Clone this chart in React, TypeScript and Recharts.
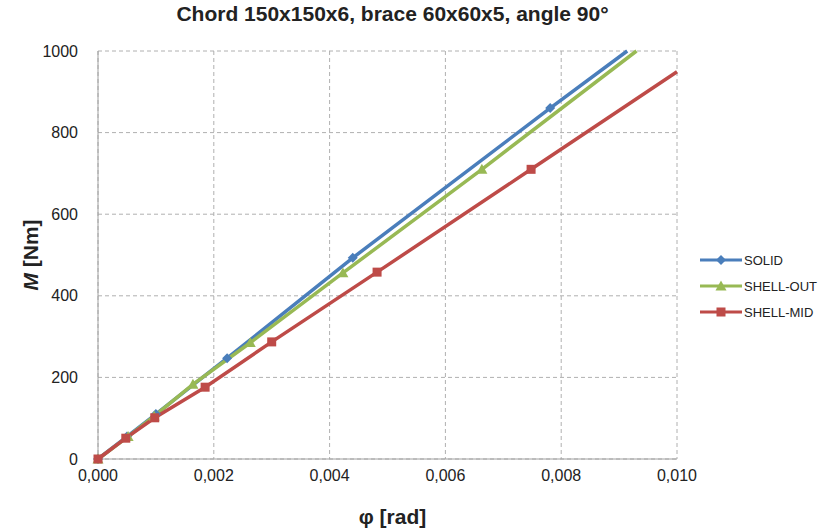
import React from 'react';
import { LineChart, Line, XAxis, YAxis, CartesianGrid } from 'recharts';

const phiSolid = [0, 0.0005, 0.001, 0.00223, 0.0044, 0.00781, 0.00914];
const mSolid = [0, 55, 110, 247, 493, 860, 1000];

const phiShellOut = [0, 0.00052, 0.00097, 0.00164, 0.00263, 0.00423, 0.00663, 0.0093];
const mShellOut = [0, 55, 105, 183, 285, 456, 710, 1000];

const phiShellMid = [0, 0.00048, 0.00098, 0.00185, 0.003, 0.00482, 0.00748, 0.01];
const mShellMid = [0, 51, 101, 176, 287, 458, 710, 949];

const xTicks = [0, 0.002, 0.004, 0.006, 0.008, 0.01];
const yTicks = [0, 200, 400, 600, 800, 1000];

const seriesNames = ['SOLID', 'SHELL-OUT', 'SHELL-MID'];
const colors = ['#4A7EBB', '#98B954', '#BE4B48'];
const shapes = ['diamond', 'triangle', 'square'];

const build = (xs: number[], ys: number[]) => xs.map((x, i) => ({ phi: x, m: ys[i], last: i === xs.length - 1 }));

const dataSolid = build(phiSolid, mSolid);
const dataShellOut = build(phiShellOut, mShellOut);
const dataShellMid = build(phiShellMid, mShellMid);

const FONT = '"Liberation Sans", Arial, sans-serif';

function Marker({ cx, cy, shape, color }: { cx: number; cy: number; shape: string; color: string }) {
  if (shape === 'diamond') {
    const r = 5;
    return <polygon points={`${cx},${cy - r} ${cx + r},${cy} ${cx},${cy + r} ${cx - r},${cy}`} fill={color} />;
  }
  if (shape === 'triangle') {
    const r = 5.5;
    return <polygon points={`${cx},${cy - r} ${cx + r},${cy + r * 0.8} ${cx - r},${cy + r * 0.8}`} fill={color} />;
  }
  const s = 4.5;
  return <rect x={cx - s} y={cy - s} width={2 * s} height={2 * s} fill={color} />;
}

const makeDot = (k: number) => (props: any) => {
  const { cx, cy, payload, index } = props;
  if (payload && payload.last) return <g key={`d${k}-${index}`} />;
  return (
    <g key={`d${k}-${index}`}>
      <Marker cx={cx} cy={cy} shape={shapes[k]} color={colors[k]} />
    </g>
  );
};

const fmt = (v: number) => v.toFixed(3).replace('.', ',');

function LegendBox() {
  return (
    <div style={{ position: 'absolute', left: 700, top: 247, fontFamily: FONT, fontSize: 13, color: '#222' }}>
      {seriesNames.map((n, k) => (
        <div key={n} style={{ display: 'flex', alignItems: 'center', height: 26 }}>
          <svg width={42} height={12} style={{ marginRight: 2 }}>
            <line x1={0} y1={6} x2={42} y2={6} stroke={colors[k]} strokeWidth={3} />
            <Marker cx={21} cy={6} shape={shapes[k]} color={colors[k]} />
          </svg>
          <span>{n}</span>
        </div>
      ))}
    </div>
  );
}

export default function App() {
  return (
    <div style={{ position: 'absolute', left: 0, top: 0, width: 822, height: 532, background: '#fff' }}>
      <div
        style={{
          position: 'absolute',
          left: 98,
          width: 589,
          top: 2,
          textAlign: 'center',
          fontFamily: FONT,
          fontWeight: 'bold',
          fontSize: 21,
          color: '#222',
        }}
      >
        Chord 150x150x6, brace 60x60x5, angle 90°
      </div>
      <LineChart width={822} height={532} margin={{ top: 51, right: 145, bottom: 43, left: 38 }}>
        <CartesianGrid stroke="#b0b0b0" strokeDasharray="4 3" />
        <XAxis
          type="number"
          dataKey="phi"
          domain={[0, 0.01]}
          ticks={xTicks}
          tickFormatter={fmt}
          height={30}
          axisLine={{ stroke: '#a0a0a0' }}
          tickLine={false}
          tick={{ fill: '#222', fontSize: 16, fontFamily: FONT }}
          tickMargin={5}
          label={{
            content: (p: any) => {
              const vb = p.viewBox;
              return (
                <text x={vb.x + vb.width / 2 + 5} y={524} textAnchor="middle" fontFamily={FONT} fontSize={21} fontWeight="bold" fill="#222">
                  φ [rad]
                </text>
              );
            },
          }}
        />
        <YAxis
          type="number"
          domain={[0, 1000]}
          ticks={yTicks}
          width={60}
          axisLine={{ stroke: '#a0a0a0' }}
          tickLine={false}
          tick={{ fill: '#222', fontSize: 16, fontFamily: FONT }}
          tickMargin={14}
          label={{
            content: (p: any) => {
              const vb = p.viewBox;
              const cy = vb.y + vb.height / 2;
              return (
                <text x={38} y={cy} transform={`rotate(-90 38 ${cy})`} textAnchor="middle" fontFamily={FONT} fontSize={21} fontWeight="bold" fill="#222">
                  <tspan fontStyle="italic">M</tspan>
                  <tspan> [Nm]</tspan>
                </text>
              );
            },
          }}
        />
        <Line data={dataSolid} dataKey="m" name={seriesNames[0]} stroke={colors[0]} strokeWidth={3.5} dot={makeDot(0)} activeDot={false} isAnimationActive={false} />
        <Line data={dataShellOut} dataKey="m" name={seriesNames[1]} stroke={colors[1]} strokeWidth={3.5} dot={makeDot(1)} activeDot={false} isAnimationActive={false} />
        <Line data={dataShellMid} dataKey="m" name={seriesNames[2]} stroke={colors[2]} strokeWidth={3.5} dot={makeDot(2)} activeDot={false} isAnimationActive={false} />
      </LineChart>
      <LegendBox />
    </div>
  );
}
